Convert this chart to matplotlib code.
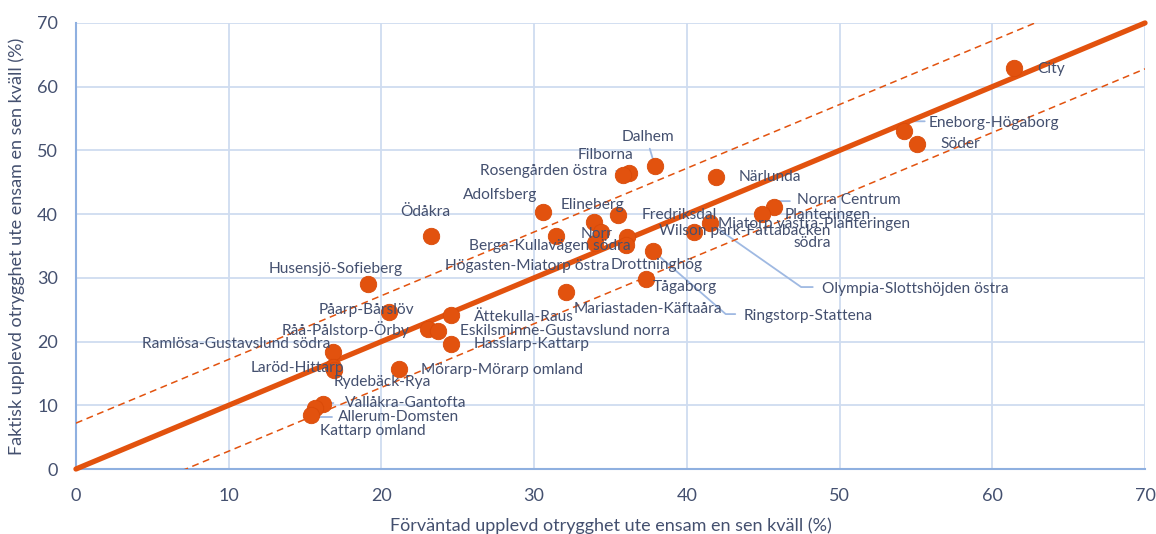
import matplotlib
matplotlib.use("Agg")
import matplotlib.pyplot as plt
import numpy as np

plt.rcParams['font.family'] = ['Lato', 'DejaVu Sans']

# ---------------- data ----------------
names = [
    "City", "Eneborg-Högaborg", "Söder", "Dalhem", "Filborna", "Rosengården östra",
    "Närlunda", "Adolfsberg", "Ödåkra", "Elineberg", "Wilson park-Fattabacken\nsödra",
    "Norr", "Berga-Kullavägen södra", "Fredriksdal", "Högasten-Miatorp östra",
    "Drottninghög", "Ringstorp-Stattena", "Tågaborg", "Mariastaden-Käftaåra",
    "Miatorp västra-Planteringen", "Olympia-Slottshöjden östra", "Norra Centrum",
    "Planteringen", "Husensjö-Sofieberg", "Påarp-Bårslöv", "Råå-Pålstorp-Örby",
    "Eskilsminne-Gustavslund norra", "Ättekulla-Raus", "Hasslarp-Kattarp",
    "Ramlösa-Gustavslund södra", "Laröd-Hittarp", "Rydebäck-Rya",
    "Mörarp-Mörarp omland", "Vallåkra-Gantofta", "Allerum-Domsten", "Kattarp omland",
]
expected = [
    61.4, 54.2, 55.1, 37.9, 36.2, 35.8,
    41.9, 30.6, 23.25, 35.5, 33.9,
    34.4, 31.4, 36.1, 34.0,
    36.0, 37.8, 37.3, 32.1,
    40.5, 41.5, 45.7,
    44.9, 19.1, 20.5, 23.05,
    23.7, 24.55, 24.55,
    16.8, 16.8, 16.9,
    21.15, 16.2, 15.65, 15.4,
]
actual = [
    62.9, 53.0, 51.0, 47.6, 46.5, 46.15,
    45.8, 40.3, 36.6, 39.9, 38.8,
    37.2, 36.6, 36.4, 35.5,
    35.2, 34.2, 29.8, 27.8,
    37.2, 38.6, 41.1,
    40.0, 29.0, 24.6, 22.0,
    21.7, 24.2, 19.6,
    18.4, 16.0, 15.5,
    15.7, 10.2, 9.6, 8.5,
]
band = 7.2
ticks = [0, 10, 20, 30, 40, 50, 60, 70]
xlabel = "Förväntad upplevd otrygghet ute ensam en sen kväll (%)"
ylabel = "Faktisk upplevd otrygghet ute ensam en sen kväll (%)"

# ---------------- label placement (pixel offsets, ha) ----------------
label_pos = {
    "City": (24, -1, 'left'),
    "Eneborg-Högaborg": (25, 8, 'left'),
    "Söder": (23, 0, 'left'),
    "Dalhem": (-7, 29, 'center'),
    "Filborna": (-23, 18, 'center'),
    "Rosengården östra": (-15, 4, 'right'),
    "Närlunda": (23, 0, 'left'),
    "Adolfsberg": (-43, 17, 'center'),
    "Ödåkra": (-6, 24, 'center'),
    "Elineberg": (-26, 10, 'center'),
    "Wilson park-Fattabacken\nsödra": (237, -15, 'right'),
    "Norr": (-5, -2, 'center'),
    "Berga-Kullavägen södra": (-6, -10, 'center'),
    "Fredriksdal": (14, 22, 'left'),
    "Högasten-Miatorp östra": (14, -23, 'right'),
    "Drottninghög": (-15, -20, 'left'),
    "Ringstorp-Stattena": (90, -65, 'left'),
    "Tågaborg": (7, -8, 'left'),
    "Mariastaden-Käftaåra": (7, -17, 'left'),
    "Miatorp västra-Planteringen": (24, 8, 'left'),
    "Olympia-Slottshöjden östra": (112, -66, 'left'),
    "Norra Centrum": (23, 7, 'left'),
    "Planteringen": (23, -1, 'left'),
    "Husensjö-Sofieberg": (-32, 15, 'center'),
    "Påarp-Bårslöv": (-23, 2, 'center'),
    "Råå-Pålstorp-Örby": (-82, -1, 'center'),
    "Eskilsminne-Gustavslund norra": (22, 0, 'left'),
    "Ättekulla-Raus": (23, -2, 'left'),
    "Hasslarp-Kattarp": (23, 0, 'left'),
    "Ramlösa-Gustavslund södra": (-2, 8, 'right'),
    "Laröd-Hittarp": (-35, -1, 'center'),
    "Rydebäck-Rya": (0, -12, 'left'),
    "Mörarp-Mörarp omland": (22, -1, 'left'),
    "Vallåkra-Gantofta": (22, 1, 'left'),
    "Allerum-Domsten": (23, -9, 'left'),
    "Kattarp omland": (9, -16, 'left'),
}
# leader lines: start offset (pixels) and connection style
leaders = {
    "Eneborg-Högaborg": ((21, 10), "angle,angleA=0,angleB=55,rad=0"),
    "Dalhem": ((-5, 17), "arc3"),
    "Rosengården östra": ((-7, 4), "angle,angleA=0,angleB=90,rad=0"),
    "Fredriksdal": ((13, 5), "arc3"),
    "Ringstorp-Stattena": ((82, -63), "angle,angleA=0,angleB=-41,rad=0"),
    "Olympia-Slottshöjden östra": ((103, -64), "angle,angleA=0,angleB=-35,rad=0"),
    "Norra Centrum": ((16, 6), "angle,angleA=0,angleB=70,rad=0"),
    "Vallåkra-Gantofta": ((10, 1), "arc3"),
    "Allerum-Domsten": ((17, -9), "angle,angleA=0,angleB=90,rad=0"),
}

TEXT = '#44506f'
GRID = '#cfdcf0'
SPINE = '#8fb0e0'
ORANGE = '#e2520e'
LEADER = '#9fb9e2'

fig = plt.figure(figsize=(11.56, 5.34), dpi=100)
ax = fig.add_axes([0.0657, 0.1217, 0.9248, 0.8353])
ax.set_xlim(0, 70)
ax.set_ylim(0, 70)

ax.set_xticks(ticks)
ax.set_yticks(ticks)
ax.grid(True, color=GRID, linewidth=1.3, zorder=0)
ax.set_axisbelow(True)
for s in ['top', 'right']:
    ax.spines[s].set_visible(False)
for s in ['left', 'bottom']:
    ax.spines[s].set_color(SPINE)
    ax.spines[s].set_linewidth(1.5)
ax.tick_params(length=0, labelsize=13, labelcolor=TEXT)
ax.tick_params(axis='x', pad=14)
ax.tick_params(axis='y', pad=13)

xs = np.array(ticks, dtype=float)
ax.plot(xs, xs, color=ORANGE, linewidth=3.8, solid_capstyle='round', zorder=3, clip_on=False)
ax.plot(xs, xs + band, color=ORANGE, linewidth=1.1, linestyle=(0, (4.5, 3)), zorder=3)
ax.plot(xs, xs - band, color=ORANGE, linewidth=1.1, linestyle=(0, (4.5, 3)), zorder=3)

for name, (start, cs) in leaders.items():
    i = names.index(name)
    ax.annotate('', xy=(expected[i], actual[i]), xytext=start, textcoords='offset pixels',
                arrowprops=dict(arrowstyle='-', color=LEADER, lw=1.3, shrinkA=0, shrinkB=0,
                                connectionstyle=cs), zorder=2)

ax.scatter(expected, actual, s=140, color=ORANGE, edgecolors='#d94a08', linewidths=0.6,
           zorder=4, clip_on=False)

for i, name in enumerate(names):
    dx, dy, ha = label_pos[name]
    ax.annotate(name, xy=(expected[i], actual[i]), xytext=(dx, dy), textcoords='offset pixels',
                ha=ha, va='center', fontsize=11.2, color=TEXT, zorder=5,
                multialignment='right' if ha == 'right' else 'left', linespacing=0.85)

ax.set_xlabel(xlabel, fontsize=13, color=TEXT, labelpad=9)
ax.set_ylabel(ylabel, fontsize=13, color=TEXT, labelpad=9)

fig.savefig('out.png', dpi=100)
